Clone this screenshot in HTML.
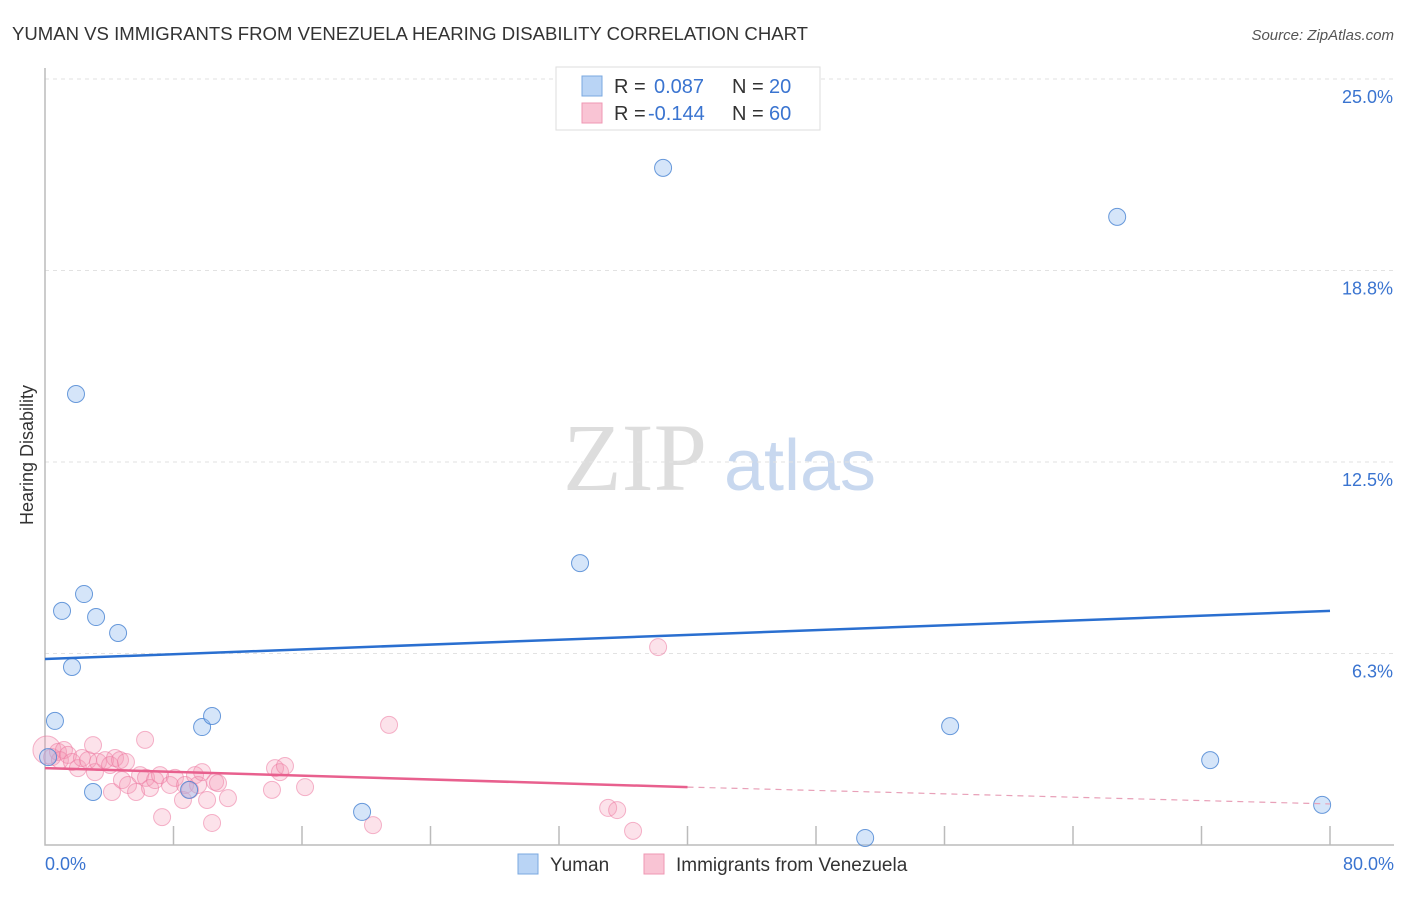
<!DOCTYPE html>
<html><head><meta charset="utf-8"><style>
body{margin:0;background:#fff;font-family:"Liberation Sans",sans-serif;}
</style></head><body>
<svg id="c" width="1406" height="892" xmlns="http://www.w3.org/2000/svg" font-family="Liberation Sans, sans-serif">
<text x="12" y="40" font-size="18" fill="#333" textLength="796" lengthAdjust="spacingAndGlyphs">YUMAN VS IMMIGRANTS FROM VENEZUELA HEARING DISABILITY CORRELATION CHART</text>
<text x="1394" y="40" font-size="15" fill="#555" font-style="italic" text-anchor="end">Source: ZipAtlas.com</text>
<text x="33" y="455" font-size="18" fill="#333" text-anchor="middle" transform="rotate(-90 33 455)">Hearing Disability</text>
<g><text x="635" y="490" font-size="96" fill="#ddd" style="font-family:'Liberation Serif',serif" text-anchor="middle">ZIP</text><text x="800" y="490" font-size="72" fill="#c8d8ef" text-anchor="middle">atlas</text></g>
<g id="grid"></g><g id="axes"></g><g id="marks"></g>
<g font-size="20">
<rect x="556" y="67" width="264" height="63" fill="#fff" stroke="#ddd"/>
<rect x="582" y="76" width="20" height="20" fill="#b9d4f5" stroke="#7aa8e0"/>
<rect x="582" y="103" width="20" height="20" fill="#f9c4d4" stroke="#ef97b3"/>
<text x="614" y="93" fill="#333">R =</text><text x="654" y="93" fill="#3a74d0">0.087</text>
<text x="732" y="93" fill="#333">N =</text><text x="769" y="93" fill="#3a74d0">20</text>
<text x="614" y="120" fill="#333">R =</text><text x="648" y="120" fill="#3a74d0">-0.144</text>
<text x="732" y="120" fill="#333">N =</text><text x="769" y="120" fill="#3a74d0">60</text>
</g>
<g>
<rect x="518" y="854" width="20" height="20" fill="#b9d4f5" stroke="#7aa8e0"/>
<text x="550" y="871" font-size="19" fill="#333">Yuman</text>
<rect x="644" y="854" width="20" height="20" fill="#f9c4d4" stroke="#ef97b3"/>
<text x="676" y="871" font-size="19" fill="#333">Immigrants from Venezuela</text>
</g>
</svg>
<script>
const yTicks=[25.0,18.8,12.5,6.3];
const yTickVals=[25,18.75,12.5,6.25];
const xTickLabels=["0.0%","80.0%"];
const yumanX=[0.19,0.62,1.06,1.68,1.93,2.43,3.18,2.99,4.55,8.97,9.78,10.40,19.74,33.31,38.48,51.06,56.35,66.75,72.54,79.51];
const yumanY=[2.87,4.05,7.64,5.81,14.72,8.19,7.44,1.73,6.92,1.80,3.85,4.21,1.08,9.20,22.10,0.23,3.88,20.50,2.77,1.31];
const venX=[0.12,0.44,0.81,1.18,0.93,1.43,1.68,2.05,2.30,2.68,2.99,3.11,3.30,3.74,4.05,4.17,4.36,4.67,4.79,5.04,5.17,5.67,5.92,6.23,6.29,6.54,6.85,7.16,7.29,7.78,8.09,8.59,8.72,9.03,9.34,9.53,9.78,10.09,10.40,10.59,10.77,11.39,14.13,14.32,14.63,14.94,16.19,20.42,21.42,35.06,35.62,36.61,38.17];
const venY=[3.10,2.87,3.04,3.10,2.77,2.94,2.71,2.51,2.84,2.77,3.26,2.38,2.71,2.77,2.61,1.73,2.84,2.77,2.12,2.71,1.96,1.73,2.28,3.43,2.19,1.86,2.12,2.28,0.91,1.96,2.19,1.47,1.96,1.80,2.28,1.96,2.38,1.47,0.72,2.06,2.02,1.53,1.80,2.51,2.38,2.58,1.89,0.65,3.92,1.21,1.14,0.46,6.46];
const yumanTrend=[6.07,7.64];
const venTrend=[2.51,1.89,1.34];
const X=v=>45+v*(1330-45)/80, Y=v=>845-v*(845-79)/25;
const NS="http://www.w3.org/2000/svg";
function mk(p,t,a){const e=document.createElementNS(NS,t);for(const k in a)e.setAttribute(k,a[k]);document.getElementById(p).appendChild(e);return e;}
yTickVals.forEach((v,i)=>{
 const l=mk('grid','line',{x1:45,x2:1394,y1:Y(v),y2:Y(v),stroke:'#e2e2e2','stroke-dasharray':'4,4'});
 
 
 const t=mk('grid','text',{x:1393,y:Y(v)+24,'font-size':18,fill:'#3a74d0','text-anchor':'end'});t.textContent=yTicks[i].toFixed(1)+'%';
 
 
});
const ax=mk('axes','path',{d:`M45,68V845H1394`,fill:'none',stroke:'#bbb','stroke-width':1.5});


for(let i=1;i<=10;i++){const t=mk('axes','line',{x1:X(i*8),x2:X(i*8),y1:826,y2:845,stroke:'#bbb','stroke-width':1.5});
 
 }
[[0,'start'],[80,'end']].forEach(([v,a],i)=>{const t=mk('axes','text',{x:i?1394:45,y:870,'font-size':18,fill:'#3a74d0','text-anchor':a});t.textContent=xTickLabels[i];
 
 });
venX.forEach((v,i)=>{const c=mk('marks','circle',{cx:X(v),cy:Y(venY[i]),r:i==0?14:8.5,fill:'rgba(244,150,180,0.28)',stroke:'rgba(236,120,160,0.55)','stroke-width':1});
 
 });
yumanX.forEach((v,i)=>{const c=mk('marks','circle',{cx:X(v),cy:Y(yumanY[i]),r:8.5,fill:'rgba(150,190,240,0.4)',stroke:'rgba(70,130,210,0.8)','stroke-width':1});
 
 });
const bl=mk('marks','line',{x1:X(0),y1:Y(yumanTrend[0]),x2:X(80),y2:Y(yumanTrend[1]),stroke:'#2a6fd0','stroke-width':2.5});


const pl=mk('marks','line',{x1:X(0),y1:Y(venTrend[0]),x2:X(40),y2:Y(venTrend[1]),stroke:'#e8608e','stroke-width':2.5});


const pd=mk('marks','line',{x1:X(40),y1:Y(venTrend[1]),x2:X(80),y2:Y(venTrend[2]),stroke:'#e8a0b8','stroke-width':1.2,'stroke-dasharray':'6,5'});


</script>
</body></html>
